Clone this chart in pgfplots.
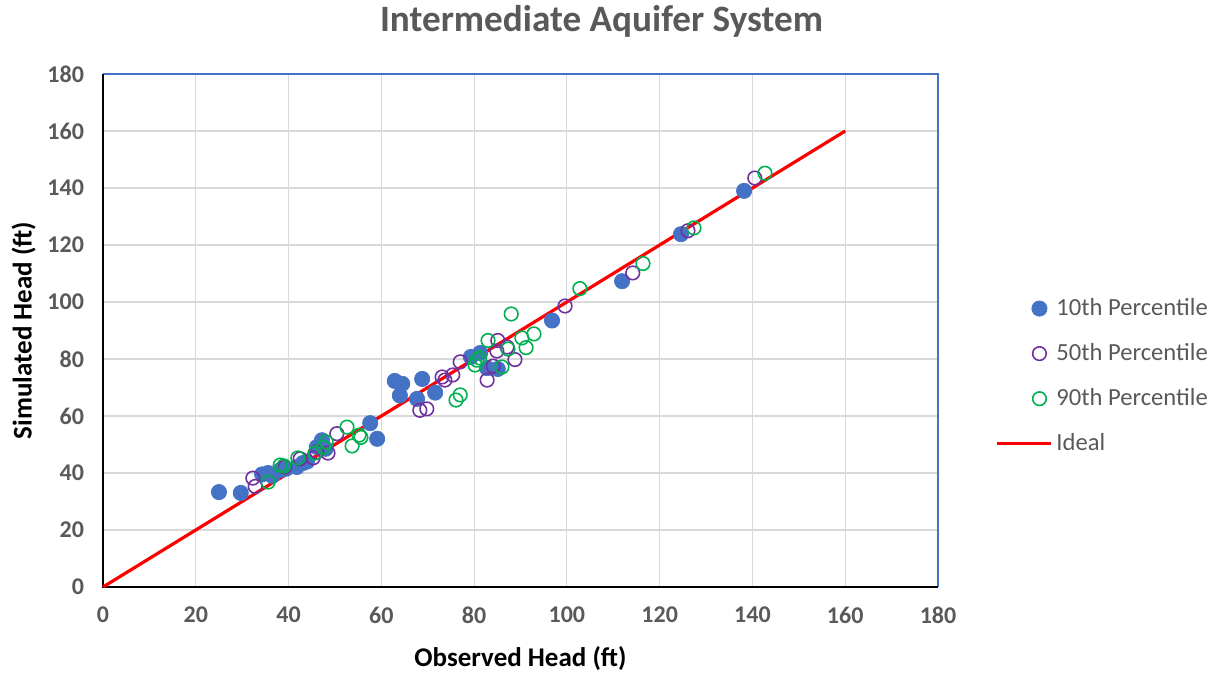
\documentclass[border=0pt]{standalone}
\usepackage{pgfplots}
\pgfplotsset{compat=1.18}
\usepackage{fontspec}
\setmainfont{Carlito}
\definecolor{tickgray}{HTML}{595959}
\definecolor{gridgray}{HTML}{D9D9D9}
\definecolor{pblue}{HTML}{4472C4}
\definecolor{ppurple}{HTML}{7030A0}
\definecolor{pgreen}{HTML}{00B050}
\definecolor{frameblue}{HTML}{4472C4}
\begin{document}
\begin{tikzpicture}
\path[use as bounding box] (0,0) rectangle (608.5pt,337.5pt);
\begin{axis}[
  at={(51.5pt,44pt)}, anchor=south west,
  scale only axis, width=417.5pt, height=256.5pt,
  xmin=0, xmax=180, ymin=0, ymax=180,
  xtick={0,20,...,180}, ytick={0,20,...,180},
  grid=major, major grid style={gridgray, line width=0.6pt},
  axis line style={draw=none},
  tick style={draw=none},
  ticklabel style={font=\fontsize{12}{14}\selectfont\bfseries, text=tickgray},
  /pgf/number format/assume math mode=true,
  xticklabel style={yshift=-6.5pt},
  yticklabel style={xshift=-6pt},
  xlabel={Observed Head (ft)}, ylabel={Simulated Head (ft)},
  label style={font=\fontsize{13.5}{16}\selectfont\bfseries},
  xlabel style={yshift=-4.5pt},
  ylabel style={yshift=-1pt},
  title={Intermediate Aquifer System},
  title style={font=\fontsize{18.6}{22}\selectfont\bfseries, text=tickgray, yshift=9pt, xshift=40.5pt},
  clip=false,
  legend style={at={(1.068,0.411)}, anchor=west, draw=none, fill=none,
    font=\fontsize{12.3}{14}\selectfont, text=tickgray, row sep=8.5pt, inner sep=0pt},
  legend cell align=left,
]
\draw[frameblue, line width=0.6pt] (axis cs:0,180) -- (axis cs:180,180) -- (axis cs:180,0);
\draw[black, line width=0.8pt] (axis cs:0,180) -- (axis cs:0,0) -- (axis cs:180,0);
\addplot[only marks, mark=*, mark size=3.8pt, mark options={fill=pblue, draw=pblue}] coordinates {
(25.0,33.3) (29.7,33.0) (34.3,39.5) (35.6,40.0) (36.5,39.0) (38.2,41.0) (39.5,41.5)
(41.8,42.1) (43.1,43.5) (44.0,44.0) (46.1,49.1) (47.2,51.5) (48.0,48.5) (57.6,57.5)
(59.1,52.0) (62.9,72.3) (64.5,71.3) (64.0,67.2) (67.7,66.0) (68.8,73.0) (71.6,68.2)
(79.3,80.7) (81.3,82.1) (82.8,76.8) (85.1,76.5) (96.8,93.5) (111.9,107.3) (124.6,123.8)
(138.2,139.0)};
\addlegendentry{10th Percentile}
\addplot[only marks, mark=o, mark size=3.4pt, mark options={draw=ppurple, line width=0.8pt}] coordinates {
(32.3,38.2) (32.8,35.3) (39.2,42.1) (42.5,45.0) (45.3,45.3) (46.1,47.4) (48.5,47.0)
(50.4,53.8) (68.3,62.0) (69.8,62.5) (73.1,73.7) (73.7,72.6) (75.4,74.4) (77.0,79.0)
(82.8,72.6) (84.1,77.5) (84.9,82.8) (85.1,86.5) (87.1,84.2) (88.8,79.8) (99.6,98.6)
(114.2,110.2) (126.1,125.0) (140.5,143.5)};
\addlegendentry{50th Percentile}
\addplot[only marks, mark=o, mark size=3.4pt, mark options={draw=pgreen, line width=0.8pt}] coordinates {
(35.6,36.8) (38.2,42.8) (39.0,42.5) (42.0,45.3) (45.7,47.0) (48.1,50.9) (47.5,49.0)
(52.6,56.1) (53.7,49.5) (55.2,53.3) (55.6,52.5) (76.1,65.6) (77.0,67.4) (80.2,77.9)
(80.6,79.6) (81.2,80.4) (83.0,86.5) (86.0,77.2) (87.3,83.5) (88.0,95.8) (90.3,87.4)
(91.2,84.0) (92.9,88.8) (102.8,104.7) (116.4,113.5) (127.4,126.0) (142.7,145.2)};
\addlegendentry{90th Percentile}
\addplot[red, line width=1.6pt, no marks, legend image code/.code={\draw[red, line width=1.6pt] (-0.45cm,0) -- (0.5cm,0);}] coordinates {(0,0) (160,160)};
\addlegendentry{Ideal}
\end{axis}
\end{tikzpicture}
\end{document}
